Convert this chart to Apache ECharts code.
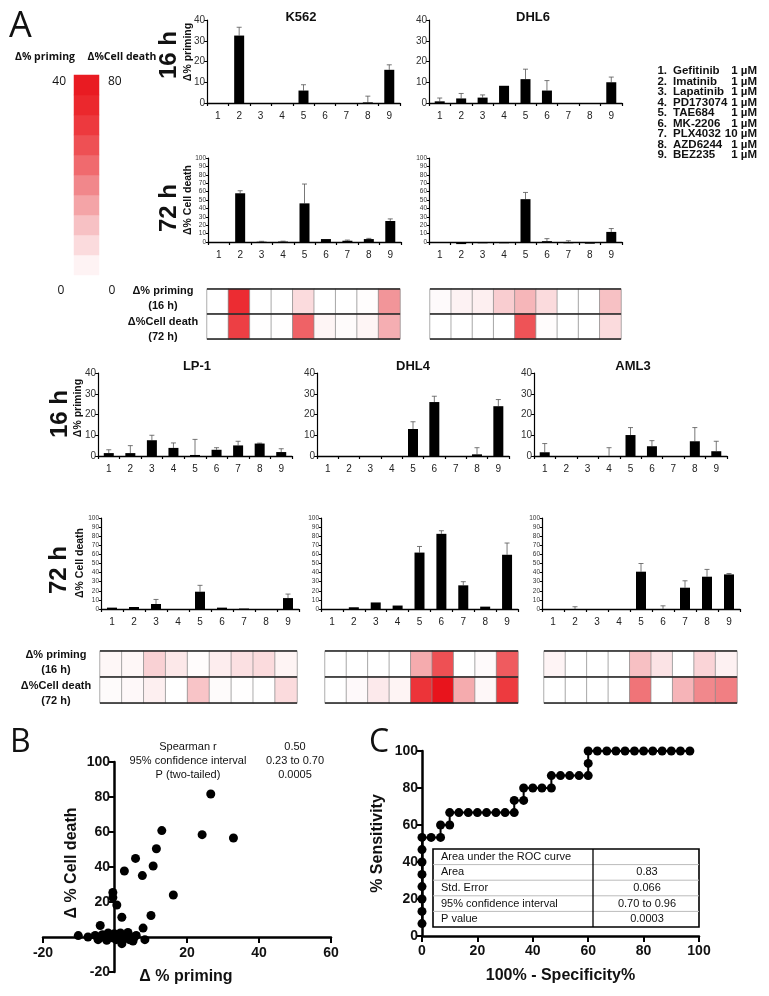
<!DOCTYPE html>
<html>
<head>
<meta charset="utf-8">
<script src="https://cdn.jsdelivr.net/npm/echarts@6/dist/echarts.min.js"></script>
<style>html,body{margin:0;background:#fff}#chart{width:769px;height:996px}</style>
</head>
<body>
<div id="chart"></div>
<script>
// drugs (x categories of every bar chart / heat strip)
const drugs = ['1', '2', '3', '4', '5', '6', '7', '8', '9'];
const drugNames = ['Gefitinib', 'Imatinib', 'Lapatinib', 'PD173074', 'TAE684', 'MK-2206', 'PLX4032', 'AZD6244', 'BEZ235'];
const drugDoses = ['1 \u00b5M', '1 \u00b5M', '1 \u00b5M', '1 \u00b5M', '1 \u00b5M', '1 \u00b5M', '10 \u00b5M', '1 \u00b5M', '1 \u00b5M'];

// delta % priming at 16 h and delta % cell death at 72 h, with error bars
const k562P = [0, 32.5, 0, 0, 6, 0, 0, 0.3, 16];
const k562PErr = [0, 4, 0, 0, 2.8, 0, 0, 3, 2.4];
const k562D = [-0.8, 58, 0.3, 0.5, 46, 3.5, 1.5, 3.5, 25];
const k562DErr = [0, 3, 0.5, 0.5, 23, 0, 0.8, 0.8, 2.5];
const dhl6P = [0.8, 2.2, 2.6, 8.3, 11.5, 6, 0, 0, 10];
const dhl6PErr = [1.6, 2.4, 1.3, 0, 4.8, 4.8, 0, 0, 2.5];
const dhl6D = [0, -2.5, -1.5, -1.5, 51, 1, -1.5, -2, 12];
const dhl6DErr = [0, 0, 0, 0, 8, 3, 1.5, 0, 4];
const lp1P = [1.4, 1.4, 7.6, 3.9, 0.5, 3, 5.1, 6, 1.9];
const lp1PErr = [1.6, 3.6, 2.4, 2.4, 7.5, 1, 2, 0.2, 1.6];
const lp1D = [1.5, 2.2, 5.5, 0, 19, 1.5, 0.5, 0, 12];
const lp1DErr = [0, 0, 5, 0, 7, 0, 0, 0, 4.4];
const dhl4P = [0, 0, 0, 0, 13, 26, 0, 0.8, 24];
const dhl4PErr = [0, 0, 0, 0, 3.5, 2.8, 0, 3.2, 3.2];
const dhl4D = [0, 1.9, 7.2, 3.8, 62, 82.6, 26, 2.6, 59.6];
const dhl4DErr = [0, 0, 0, 0, 6.7, 3.4, 4, 0, 12.9];
const aml3P = [1.8, 0, 0, 0, 10.1, 4.7, 0, 7.1, 2.3];
const aml3PErr = [4.2, 0, 0, 4, 3.6, 2.7, 0, 6.6, 4.8];
const aml3D = [-0.3, 0, 0, 0, 41, 0, 23.4, 35.5, 38];
const aml3DErr = [0, 2.5, 0, 0, 9, 3.5, 7.6, 8, 1];

// colour scale legend steps (fraction of 40 % priming / 80 % cell death)
const scaleSteps = [0.05, 0.15, 0.25, 0.35, 0.45, 0.55, 0.65, 0.75, 0.85, 0.95];

// panel B: delta % priming vs delta % cell death
const bPoints = [
  [26.6, 81.7], [13.0, 60.8], [24.2, 58.5], [32.9, 56.6], [11.5, 50.4], [5.7, 44.9],
  [10.6, 40.6], [2.6, 37.7], [7.6, 35.1], [16.2, 24.0], [-0.6, 25.5], [-0.6, 22.6],
  [0.5, 18.3], [1.9, 11.3], [10.0, 12.3], [-4.1, 6.6], [7.8, 5.1],
  [-10.2, 0.8], [-7.5, 0], [-5.5, 0.9], [-4.7, -1.5], [-3.5, 1.3], [-2.8, -0.4],
  [-2.3, -1.9], [-1.9, 2.3], [-1.1, 0.9], [-0.7, -0.4], [-0.2, 1.9], [0.3, -1.5],
  [0.6, 0.4], [1.2, -0.4], [1.5, 2.3], [1.9, -3.8], [2.2, -0.9], [2.8, 0.8],
  [3.6, 2.6], [4.0, -1.5], [5.0, -2.3], [5.4, 0], [5.9, 0.9], [8.3, -1.5]
];
const spearmanLabels = ['Spearman r', '95% confidence interval', 'P (two-tailed)'];
const spearmanValues = ['0.50', '0.23 to 0.70', '0.0005'];

// panel C: ROC curve
const rocX = [0, 0, 0, 0, 0, 0, 0, 0, 3.3, 6.7, 6.7, 10, 10, 13.3, 16.7, 20, 23.3, 26.7, 30, 33.3,
  33.3, 36.7, 36.7, 40, 43.3, 46.7, 46.7, 50, 53.3, 56.7, 60, 60, 60,
  63.3, 66.7, 70, 73.3, 76.7, 80, 83.3, 86.7, 90, 93.3, 96.7];
const rocY = [6.7, 13.3, 20, 26.7, 33.3, 40, 46.7, 53.3, 53.3, 53.3, 60, 60, 66.7, 66.7, 66.7, 66.7, 66.7, 66.7, 66.7, 66.7,
  73.3, 73.3, 80, 80, 80, 80, 86.7, 86.7, 86.7, 86.7, 86.7, 93.3, 100,
  100, 100, 100, 100, 100, 100, 100, 100, 100, 100, 100];
const rocTableLabels = ['Area under the ROC curve', 'Area', 'Std. Error', '95% confidence interval', 'P value'];
const rocTableValues = ['', '0.83', '0.066', '0.70 to 0.96', '0.0003'];

const SANS = '"Liberation Sans", Arial, sans-serif';
const NARROW = '"Liberation Sans Narrow", "Liberation Sans", Arial, sans-serif';
const HUMAN = '"Open Sans", "Noto Sans", sans-serif';

const barCharts = [
  { vals: k562P, errs: k562PErr, max: 40, box: { left: 207, top: 20, width: 193, height: 83 } },
  { vals: dhl6P, errs: dhl6PErr, max: 40, box: { left: 429, top: 20, width: 193, height: 83 } },
  { vals: k562D, errs: k562DErr, max: 100, box: { left: 208, top: 158, width: 193, height: 84 } },
  { vals: dhl6D, errs: dhl6DErr, max: 100, box: { left: 429, top: 158, width: 193, height: 84 } },
  { vals: lp1P, errs: lp1PErr, max: 40, box: { left: 98, top: 373, width: 194, height: 83 } },
  { vals: dhl4P, errs: dhl4PErr, max: 40, box: { left: 317, top: 373, width: 192, height: 83 } },
  { vals: aml3P, errs: aml3PErr, max: 40, box: { left: 534, top: 373, width: 193, height: 83 } },
  { vals: lp1D, errs: lp1DErr, max: 100, box: { left: 101, top: 518, width: 198, height: 91 } },
  { vals: dhl4D, errs: dhl4DErr, max: 100, box: { left: 321, top: 518, width: 197, height: 91 } },
  { vals: aml3D, errs: aml3DErr, max: 100, box: { left: 542, top: 518, width: 198, height: 91 } }
];

const heatStrips = [
  { prim: k562P, death: k562D, box: { left: 207, top: 289, width: 193, height: 50 } },
  { prim: dhl6P, death: dhl6D, box: { left: 430, top: 289, width: 191, height: 50 } },
  { prim: lp1P, death: lp1D, box: { left: 100, top: 651, width: 197, height: 52 } },
  { prim: dhl4P, death: dhl4D, box: { left: 325, top: 651, width: 193, height: 52 } },
  { prim: aml3P, death: aml3D, box: { left: 544, top: 651, width: 193, height: 52 } }
];

const grids = [], xAxes = [], yAxes = [], series = [], heatIdx = [];
const clamp = v => Math.max(0, Math.min(1, v));

barCharts.forEach(c => {
  const gi = grids.length;
  const small = c.max === 100;
  grids.push(Object.assign({ outerBoundsMode: 'none', containLabel: false }, c.box));
  xAxes.push({
    type: 'category', gridIndex: gi, data: drugs,
    axisLine: { onZero: false, lineStyle: { color: '#000', width: 1.4 } },
    axisTick: { show: true, length: 3, lineStyle: { color: '#000', width: 1.2 } },
    axisLabel: { interval: 0, margin: 8, fontSize: 10, color: '#222', fontFamily: NARROW }
  });
  yAxes.push({
    type: 'value', gridIndex: gi, min: 0, max: c.max, interval: 10,
    axisLine: { show: true, lineStyle: { color: '#000', width: 1.2 } },
    axisTick: { show: true, length: small ? 2 : 3, lineStyle: { color: '#000' } },
    axisLabel: { fontSize: small ? 6.5 : 10, margin: 2, color: '#333', fontFamily: NARROW },
    splitLine: { show: false }
  });
  series.push({
    type: 'bar', xAxisIndex: gi, yAxisIndex: gi, data: c.vals, barWidth: 10,
    clip: false, silent: true, itemStyle: { color: '#000' }
  });
  series.push({
    type: 'custom', xAxisIndex: gi, yAxisIndex: gi, silent: true, clip: false,
    data: c.vals.map((v, i) => [i, v, c.errs[i]]),
    renderItem: (params, api) => {
      const err = api.value(2);
      if (!err) return null;
      const base = Math.max(0, api.value(1));
      const p0 = api.coord([api.value(0), base]);
      const p1 = api.coord([api.value(0), base + err]);
      const st = { stroke: '#555', lineWidth: 0.8 };
      return {
        type: 'group', children: [
          { type: 'line', shape: { x1: p0[0], y1: p0[1], x2: p1[0], y2: p1[1] }, style: st },
          { type: 'line', shape: { x1: p1[0] - 2.5, y1: p1[1], x2: p1[0] + 2.5, y2: p1[1] }, style: st }
        ]
      };
    }
  });
});

heatStrips.forEach(h => {
  const gi = grids.length;
  grids.push(Object.assign({ outerBoundsMode: 'none', containLabel: false }, h.box));
  xAxes.push({
    type: 'category', gridIndex: gi, data: drugs,
    axisLine: { show: false }, axisTick: { show: false }, axisLabel: { show: false }
  });
  yAxes.push({
    type: 'category', gridIndex: gi, data: ['death', 'priming'], z: 5,
    axisLine: { show: false }, axisTick: { show: false }, axisLabel: { show: false },
    splitLine: { show: true, lineStyle: { color: '#222', width: 1.6 } }
  });
  const data = [];
  h.prim.forEach((v, i) => data.push([i, 1, clamp(v / 40)]));
  h.death.forEach((v, i) => data.push([i, 0, clamp(v / 80)]));
  heatIdx.push(series.length);
  series.push({
    type: 'heatmap', xAxisIndex: gi, yAxisIndex: gi, data, silent: true,
    itemStyle: { borderColor: '#8a8a8a', borderWidth: 0.7 }
  });
});

// colour scale legend
{
  const gi = grids.length;
  grids.push({ outerBoundsMode: 'none', left: 74, top: 75, width: 25, height: 200 });
  xAxes.push({ type: 'category', gridIndex: gi, data: ['s'], show: false });
  yAxes.push({ type: 'category', gridIndex: gi, data: scaleSteps.map(String), show: false });
  heatIdx.push(series.length);
  series.push({
    type: 'heatmap', xAxisIndex: gi, yAxisIndex: gi, silent: true,
    data: scaleSteps.map((v, i) => [0, i, v])
  });
}

const boldAxisLabel = { fontSize: 14, fontWeight: 'bold', color: '#111', fontFamily: SANS };

// panel B (axes cross at 0, placed with offsets)
{
  const gi = grids.length;
  grids.push({ outerBoundsMode: 'none', left: 43, top: 762, width: 288, height: 210 });
  xAxes.push({
    type: 'value', gridIndex: gi, min: -20, max: 60, interval: 20, position: 'bottom', offset: -35,
    axisLine: { onZero: false, lineStyle: { color: '#000', width: 2.5 } },
    axisTick: { show: true, length: 6, lineStyle: { color: '#000', width: 2 } },
    axisLabel: Object.assign({ margin: 9, formatter: v => (v === 0 ? '' : v) }, boldAxisLabel),
    splitLine: { show: false }
  });
  yAxes.push({
    type: 'value', gridIndex: gi, min: -20, max: 100, interval: 20, position: 'left', offset: -71,
    axisLine: { show: true, onZero: false, lineStyle: { color: '#000', width: 2.5 } },
    axisTick: { show: true, length: 6, lineStyle: { color: '#000', width: 2 } },
    axisLabel: Object.assign({ margin: 4, formatter: v => (v === 0 ? '' : v) }, boldAxisLabel),
    splitLine: { show: false }
  });
  series.push({
    type: 'scatter', xAxisIndex: gi, yAxisIndex: gi, data: bPoints, symbolSize: 9,
    silent: true, clip: false, itemStyle: { color: '#000', opacity: 1 }, z: 4
  });
}

// panel C
{
  const gi = grids.length;
  grids.push({ outerBoundsMode: 'none', left: 422, top: 751, width: 277, height: 185 });
  xAxes.push({
    type: 'value', gridIndex: gi, min: 0, max: 100, interval: 20,
    name: '100% - Specificity%', nameLocation: 'middle', nameGap: 32,
    nameTextStyle: { fontSize: 16, fontWeight: 'bold', color: '#111', fontFamily: SANS },
    axisLine: { lineStyle: { color: '#000', width: 2.5 } },
    axisTick: { show: true, length: 6, lineStyle: { color: '#000', width: 2 } },
    axisLabel: Object.assign({ margin: 8 }, boldAxisLabel),
    splitLine: { show: false }
  });
  yAxes.push({
    type: 'value', gridIndex: gi, min: 0, max: 100, interval: 20,
    name: '% Sensitivity', nameLocation: 'middle', nameGap: 36, nameRotate: 90,
    nameTextStyle: { fontSize: 16, fontWeight: 'bold', color: '#111', fontFamily: SANS },
    axisLine: { show: true, lineStyle: { color: '#000', width: 2.5 } },
    axisTick: { show: true, length: 6, lineStyle: { color: '#000', width: 2 } },
    axisLabel: Object.assign({ margin: 4 }, boldAxisLabel),
    splitLine: { show: false }
  });
  series.push({
    type: 'line', xAxisIndex: gi, yAxisIndex: gi, silent: true, clip: false,
    data: rocX.map((x, i) => [x, rocY[i]]),
    symbol: 'circle', symbolSize: 9, showSymbol: true,
    lineStyle: { color: '#000', width: 2 }, itemStyle: { color: '#000' }, z: 4
  });
}

// text helpers
const txt = (text, x, y, font, align, extra) => Object.assign({
  type: 'text', x, y, silent: true,
  style: { text, font, fill: '#111', align: align || 'center', verticalAlign: 'middle' }
}, extra || {});
const vtxt = (text, x, y, font) => txt(text, x, y, font, 'center', { rotation: Math.PI / 2 });

const graphics = [
  txt('A', 9, 27, '400 36px ' + HUMAN, 'left'),
  txt('B', 10, 743, '400 32px ' + HUMAN, 'left'),
  txt('C', 369, 743, '400 32px ' + HUMAN, 'left'),
  txt('\u0394% priming', 45, 57, 'bold 10.5px ' + HUMAN),
  txt('\u0394%Cell death', 122, 57, 'bold 10.5px ' + HUMAN),
  txt('40', 66, 82, '12px ' + HUMAN, 'right'),
  txt('80', 108, 82, '12px ' + HUMAN, 'left'),
  txt('0', 61, 291, '12px ' + HUMAN),
  txt('0', 112, 291, '12px ' + HUMAN),
  txt('K562', 301, 17, 'bold 13px ' + SANS),
  txt('DHL6', 533, 17, 'bold 13px ' + SANS),
  txt('LP-1', 197, 366, 'bold 13px ' + SANS),
  txt('DHL4', 413, 366, 'bold 13px ' + SANS),
  txt('AML3', 633, 366, 'bold 13px ' + SANS),
  vtxt('16 h', 169, 55, 'bold 24px ' + SANS),
  vtxt('\u0394% priming', 188, 52, 'bold 10.5px ' + SANS),
  vtxt('72 h', 169, 208, 'bold 24px ' + SANS),
  vtxt('\u0394% Cell death', 188, 200, 'bold 10.5px ' + SANS),
  vtxt('16 h', 60, 414, 'bold 24px ' + SANS),
  vtxt('\u0394% priming', 78, 408, 'bold 10.5px ' + SANS),
  vtxt('72 h', 59, 570, 'bold 24px ' + SANS),
  vtxt('\u0394% Cell death', 80, 563, 'bold 10.5px ' + SANS),
  vtxt('\u0394 % Cell death', 72, 863, 'bold 16px ' + SANS),
  txt('\u0394 % priming', 186, 977, 'bold 16px ' + SANS)
];

// heat strip row labels
[[163, 291], [56, 655]].forEach(([cx, y0]) => {
  ['\u0394% priming', '(16 h)', '\u0394%Cell death', '(72 h)'].forEach((t, i) => {
    graphics.push(txt(t, cx, y0 + i * 15.3, 'bold 11px ' + SANS));
  });
});

// drug legend
drugNames.forEach((n, i) => {
  const y = 71 + i * 10.5;
  graphics.push(txt((i + 1) + '.', 667, y, 'bold 11.5px ' + SANS, 'right'));
  graphics.push(txt(n, 673, y, 'bold 11.5px ' + SANS, 'left'));
  graphics.push(txt(drugDoses[i], 757, y, 'bold 11.5px ' + SANS, 'right'));
});

// Spearman stats (panel B)
spearmanLabels.forEach((t, i) => {
  graphics.push(txt(t, 188, 747 + i * 14, '11px ' + SANS));
  graphics.push(txt(spearmanValues[i], 295, 747 + i * 14, '11px ' + SANS));
});

// ROC table (panel C)
{
  const tx = 433, ty = 849, tw = 266, rh = 15.6, colX = 593;
  graphics.push({ type: 'rect', silent: true, z: 10, shape: { x: tx, y: ty, width: tw, height: rh * 5 },
    style: { fill: '#fff', stroke: '#000', lineWidth: 1.6 } });
  for (let k = 1; k < 5; k++) {
    graphics.push({ type: 'line', silent: true, z: 10, shape: { x1: tx, y1: ty + k * rh, x2: tx + tw, y2: ty + k * rh },
      style: { stroke: '#bbb', lineWidth: 1 } });
  }
  graphics.push({ type: 'line', silent: true, z: 10, shape: { x1: colX, y1: ty, x2: colX, y2: ty + rh * 5 },
    style: { stroke: '#000', lineWidth: 1.3 } });
  rocTableLabels.forEach((t, i) => {
    graphics.push(txt(t, tx + 8, ty + rh * (i + 0.5), '11px ' + SANS, 'left', { z: 11 }));
    graphics.push(txt(rocTableValues[i], 647, ty + rh * (i + 0.5), '11px ' + SANS, 'center', { z: 11 }));
  });
}

const chart = echarts.init(document.getElementById('chart'), null, { renderer: 'canvas' });
chart.setOption({
  animation: false,
  backgroundColor: '#fff',
  grid: grids,
  xAxis: xAxes,
  yAxis: yAxes,
  visualMap: [{
    type: 'continuous', show: false, min: 0, max: 1, dimension: 2, seriesIndex: heatIdx,
    inRange: { color: ['#ffffff', '#f9cfd2', '#f29599', '#ef5b5f', '#ec2e33', '#e8141c'] }
  }],
  series,
  graphic: graphics
});
window.addEventListener('resize', () => chart.resize());
</script>
</body>
</html>
